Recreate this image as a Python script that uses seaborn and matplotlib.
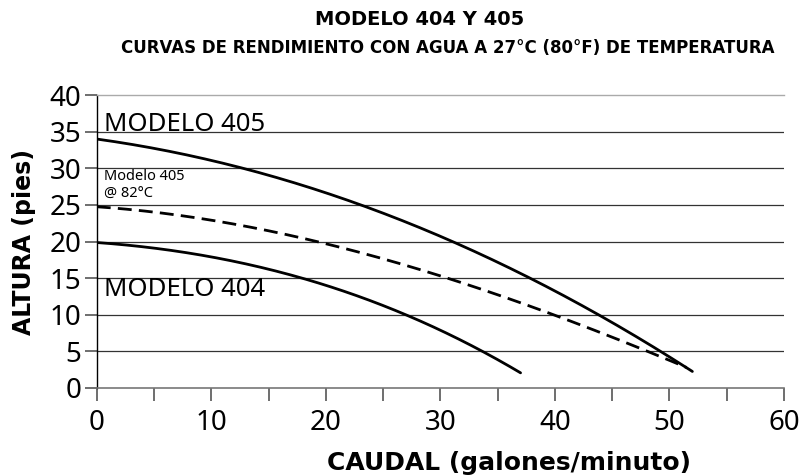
import numpy as np
import pandas as pd
import matplotlib
matplotlib.use("Agg")
import matplotlib.pyplot as plt
import seaborn as sns

# values (caudal in gpm, altura in feet)
caudal_405 = [0, 5, 10, 12, 17.9, 22.6, 30.9, 37.9, 44.2, 49.3, 52]
altura_405 = [33.7, 33.0, 31.5, 30.4, 27.4, 25.0, 20.0, 15.0, 10.0, 5.0, 2.0]

caudal_405_82 = [0, 5, 10, 17.8, 19.4, 30.7, 39.5, 48.6, 51.5]
altura_405_82 = [24.8, 24.0, 22.8, 20.6, 20.0, 15.0, 10.0, 5.0, 2.6]

caudal_404 = [0, 5, 10, 17.5, 24.8, 27.4, 33.7, 37]
altura_404 = [19.8, 19.2, 18.0, 15.0, 11.2, 10.0, 5.0, 2.0]

x_ticks = list(range(0, 61, 5))
y_ticks = [0, 5, 10, 15, 20, 25, 30, 35, 40]

sns.set_style("white")
plt.rcParams["font.family"] = ["Noto Sans", "DejaVu Sans"]
plt.rcParams["text.color"] = "black"
plt.rcParams["axes.labelcolor"] = "black"
plt.rcParams["xtick.labelcolor"] = "black"
plt.rcParams["ytick.labelcolor"] = "black"
BOLD = ["DejaVu Sans"]

df = pd.concat([
    pd.DataFrame({"caudal": caudal_405, "altura": altura_405, "serie": "405"}),
    pd.DataFrame({"caudal": caudal_405_82, "altura": altura_405_82, "serie": "405_82"}),
    pd.DataFrame({"caudal": caudal_404, "altura": altura_404, "serie": "404"}),
])

fig = plt.figure(figsize=(8, 4.76), dpi=100)
ax = fig.add_axes([0.121, 0.185, 0.859, 0.615])

# horizontal grid
for yv in y_ticks[1:-1]:
    ax.axhline(yv, color="#333333", lw=0.9, zorder=1)


def smooth(xs, ys):
    xs = np.asarray(xs, float)
    ys = np.asarray(ys, float)
    coef = np.polyfit(xs, ys, 3)
    xx = np.linspace(xs[0], xs[-1], 200)
    return xx, np.polyval(coef, xx)


for serie, style in [("405", "-"), ("405_82", (0, (5, 2.6))), ("404", "-")]:
    d = df[df["serie"] == serie]
    xx, yy = smooth(d["caudal"], d["altura"])
    sns.lineplot(x=xx, y=yy, ax=ax, color="black", lw=2, linestyle=style,
                 sort=False, zorder=3)

ax.set_xlim(0, 60)
ax.set_ylim(0, 40)
ax.set_xticks(x_ticks)
ax.set_xticklabels([str(v) if v % 10 == 0 else "" for v in x_ticks])
ax.set_yticks(y_ticks)
ax.tick_params(axis="both", length=9, width=1.2, color="#555555",
               labelcolor="black", direction="out")
ax.tick_params(axis="x", bottom=True, labelsize=20, pad=6)
ax.tick_params(axis="y", left=True, labelsize=20, pad=2)

ax.spines["right"].set_visible(False)
ax.spines["top"].set_color("#aaaaaa")
ax.spines["top"].set_linewidth(1.0)
ax.spines["left"].set_color("black")
ax.spines["left"].set_linewidth(1.0)
ax.spines["bottom"].set_color("#777777")
ax.spines["bottom"].set_linewidth(1.2)

ax.text(0.6, 34.3, "MODELO 405", fontsize=18.5, va="bottom", ha="left")
ax.text(0.6, 11.8, "MODELO 404", fontsize=18.5, va="bottom", ha="left")
ax.text(0.6, 25.4, "Modelo 405\n@ 82°C", fontsize=10.5, va="bottom", ha="left",
        linespacing=1.3)

ax.set_xlabel("CAUDAL (galones/minuto)", fontsize=18, fontweight="bold",
              family=BOLD)
ax.xaxis.set_label_coords(0.6, -0.255, transform=ax.transAxes)
ax.xaxis.label.set_va("center")
ax.set_ylabel("ALTURA (pies)", fontsize=17, fontweight="bold",
              family=BOLD, labelpad=10)

fig.text(0.525, 0.958, "MODELO 404 Y 405", ha="center", va="center",
         fontsize=14, fontweight="bold", family=BOLD)
fig.text(0.56, 0.899, "CURVAS DE RENDIMIENTO CON AGUA A 27°C (80°F) DE TEMPERATURA",
         ha="center", va="center", fontsize=12, fontweight="bold", family=BOLD)

fig.savefig("out.png", dpi=100)
